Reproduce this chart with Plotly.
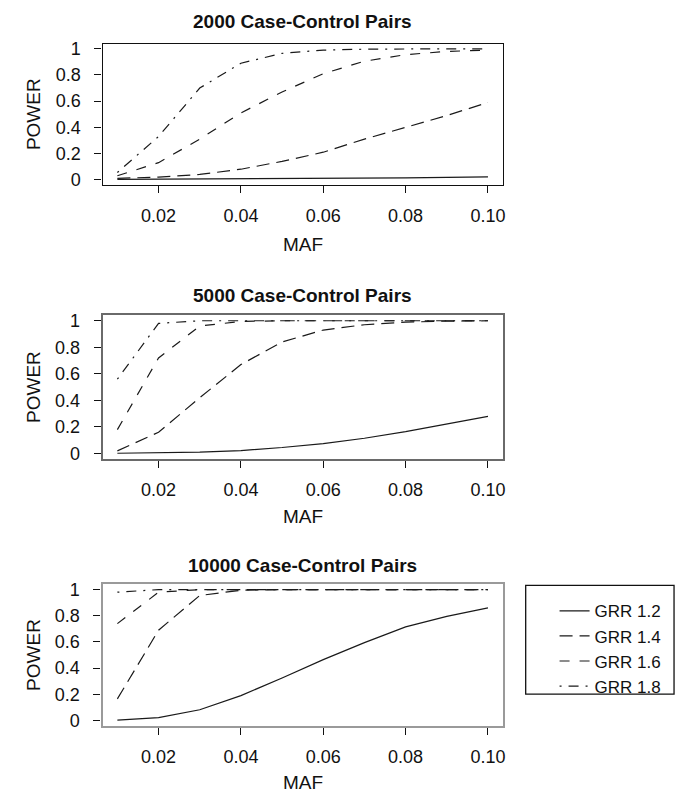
import plotly.graph_objects as go

# ---------------- data ----------------
maf = [0.01, 0.02, 0.03, 0.04, 0.05, 0.06, 0.07, 0.08, 0.09, 0.10]

grr_labels = ["GRR 1.2", "GRR 1.4", "GRR 1.6", "GRR 1.8"]

panel_titles = ["2000 Case-Control Pairs", "5000 Case-Control Pairs", "10000 Case-Control Pairs"]

p2000_grr12 = [0.003, 0.004, 0.005, 0.006, 0.007, 0.009, 0.011, 0.014, 0.017, 0.021]
p2000_grr14 = [0.010, 0.020, 0.040, 0.080, 0.140, 0.210, 0.310, 0.400, 0.490, 0.590]
p2000_grr16 = [0.030, 0.130, 0.310, 0.510, 0.670, 0.810, 0.905, 0.955, 0.980, 0.990]
p2000_grr18 = [0.055, 0.330, 0.700, 0.890, 0.965, 0.990, 0.997, 1.000, 1.000, 1.000]

p5000_grr12 = [0.002, 0.005, 0.010, 0.022, 0.045, 0.075, 0.115, 0.165, 0.220, 0.280]
p5000_grr14 = [0.020, 0.160, 0.420, 0.670, 0.840, 0.930, 0.970, 0.990, 0.997, 1.000]
p5000_grr16 = [0.180, 0.720, 0.960, 0.995, 1.000, 1.000, 1.000, 1.000, 1.000, 1.000]
p5000_grr18 = [0.560, 0.980, 1.000, 1.000, 1.000, 1.000, 1.000, 1.000, 1.000, 1.000]

p10000_grr12 = [0.003, 0.022, 0.082, 0.190, 0.325, 0.465, 0.595, 0.715, 0.795, 0.860]
p10000_grr14 = [0.165, 0.690, 0.955, 0.995, 1.000, 1.000, 1.000, 1.000, 1.000, 1.000]
p10000_grr16 = [0.740, 0.980, 1.000, 1.000, 1.000, 1.000, 1.000, 1.000, 1.000, 1.000]
p10000_grr18 = [0.980, 1.000, 1.000, 1.000, 1.000, 1.000, 1.000, 1.000, 1.000, 1.000]

x_tickvals = [0.02, 0.04, 0.06, 0.08, 0.10]
x_ticktext = ["0.02", "0.04", "0.06", "0.08", "0.10"]
y_tickvals = [0, 0.2, 0.4, 0.6, 0.8, 1.0]
y_ticktext = ["0", "0.2", "0.4", "0.6", "0.8", "1"]

panels = [
    [p2000_grr12, p2000_grr14, p2000_grr16, p2000_grr18],
    [p5000_grr12, p5000_grr14, p5000_grr16, p5000_grr18],
    [p10000_grr12, p10000_grr14, p10000_grr16, p10000_grr18],
]

# ---------------- layout / style ----------------
W, H = 686, 796
FONT = "Liberation Sans, Arial, Helvetica, sans-serif"
dashes = ["solid", "13px,7px", "10px,10px", "2px,7px,10px,7px"]

# pixel geometry of each panel box: (top, bottom)
box_left, box_right = 103, 505
boxes = [(40, 183), (315, 460), (587, 730)]
title_y = [18, 295, 568]
maf_y = [243, 518, 787]
frame_colors = ["#111111", "#6a6a6a", "#9a9a9a"]
frame_widths = [1.3, 1.8, 2.2]

def py(v):
    return 1 - v / H

fig = go.Figure()

for i, series in enumerate(panels):
    ax = "" if i == 0 else str(i + 1)
    for j, vals in enumerate(series):
        fig.add_trace(go.Scatter(
            x=maf, y=vals, mode="lines",
            name=grr_labels[j],
            legendgroup=grr_labels[j],
            showlegend=(i == 2),
            line=dict(color="#1a1a1a", width=1.2, dash=dashes[j]),
            xaxis="x" + ax, yaxis="y" + ax,
        ))
    top, bot = boxes[i]
    common = dict(showgrid=False, zeroline=False, showline=True, mirror=True,
                  linecolor=frame_colors[i], linewidth=frame_widths[i],
                  ticks="outside", ticklen=7, tickwidth=1.2, tickcolor="#111111",
                  tickfont=dict(family=FONT, size=18, color="#111111"))
    fig.update_layout(**{
        "xaxis" + ax: dict(domain=[box_left / W, box_right / W],
                           range=[0.0064, 0.1036], tickvals=x_tickvals, ticktext=x_ticktext,
                           ticklabelstandoff=7,
                           anchor="y" + ax, **common),
        "yaxis" + ax: dict(domain=[py(bot), py(top)],
                           range=[-0.04, 1.04], tickvals=y_tickvals, ticktext=y_ticktext,
                           ticklabelstandoff=10,
                           anchor="x" + ax, **common),
    })
    cx = (box_left + box_right) / 2 / W
    fig.add_annotation(text="<b>" + panel_titles[i] + "</b>", x=cx, y=py(title_y[i]),
                       xref="paper", yref="paper", showarrow=False,
                       xanchor="center", yanchor="middle",
                       font=dict(family=FONT, size=19, color="#111111"))
    fig.add_annotation(text="MAF", x=cx, y=py(maf_y[i]),
                       xref="paper", yref="paper", showarrow=False,
                       xanchor="center", yanchor="middle",
                       font=dict(family=FONT, size=19, color="#111111"))
    fig.add_annotation(text="POWER", x=33 / W, y=py((top + bot) / 2),
                       xref="paper", yref="paper", showarrow=False, textangle=-90,
                       xanchor="center", yanchor="middle",
                       font=dict(family=FONT, size=19, color="#111111"))

# legend frame
fig.add_shape(type="rect", xref="paper", yref="paper",
              x0=528 / W, x1=677 / W, y0=py(698), y1=py(588),
              line=dict(color="#111111", width=1.3))

fig.update_layout(
    width=W, height=H,
    margin=dict(l=0, r=0, t=0, b=0),
    paper_bgcolor="white", plot_bgcolor="white",
    font=dict(family=FONT, color="#111111"),
    legend=dict(x=557 / W, y=py(596), xanchor="left", yanchor="top",
                bgcolor="rgba(0,0,0,0)", borderwidth=0,
                font=dict(family=FONT, size=17, color="#111111"),
                tracegroupgap=0, itemwidth=30),
)

fig.write_html("out.html")
